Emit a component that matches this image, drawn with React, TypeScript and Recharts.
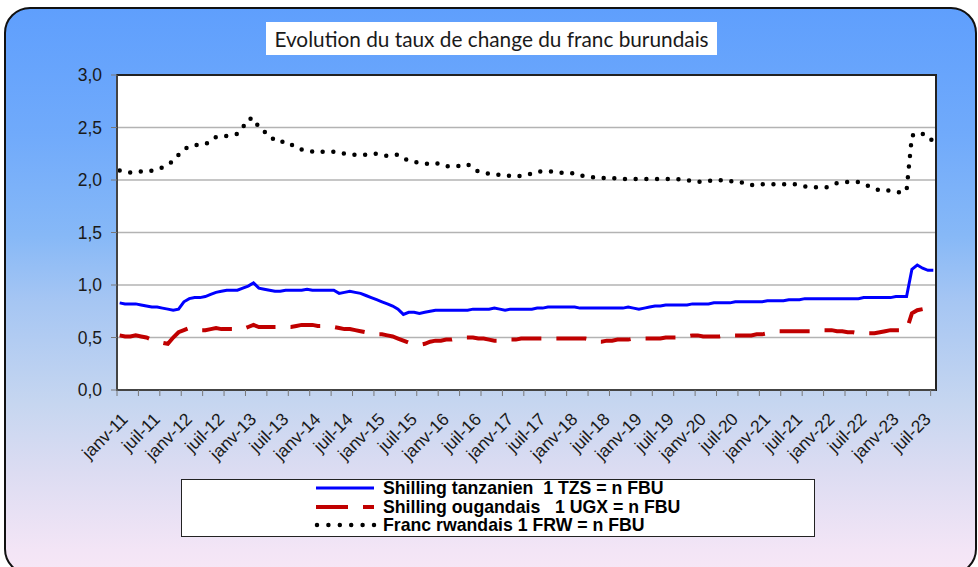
import React from 'react';
import { LineChart, Line, XAxis, YAxis, CartesianGrid, ReferenceArea, Legend } from 'recharts';

// Monthly values, janv-11 .. sept-23 (1 unit of currency = n FBU)
const tzs = [
  0.83, 0.82, 0.82, 0.82, 0.81, 0.80, 0.79, 0.79, 0.78, 0.77, 0.76, 0.77,
  0.84, 0.87, 0.88, 0.88, 0.89, 0.91, 0.93, 0.94, 0.95, 0.95, 0.95, 0.97,
  0.99, 1.02, 0.97, 0.96, 0.95, 0.94, 0.94, 0.95, 0.95, 0.95, 0.95, 0.96,
  0.95, 0.95, 0.95, 0.95, 0.95, 0.92, 0.93, 0.94, 0.93, 0.92, 0.90, 0.88,
  0.86, 0.84, 0.82, 0.80, 0.77, 0.72, 0.74, 0.74, 0.73, 0.74, 0.75, 0.76,
  0.76, 0.76, 0.76, 0.76, 0.76, 0.76, 0.77, 0.77, 0.77, 0.77, 0.78, 0.77,
  0.76, 0.77, 0.77, 0.77, 0.77, 0.77, 0.78, 0.78, 0.79, 0.79, 0.79, 0.79,
  0.79, 0.79, 0.78, 0.78, 0.78, 0.78, 0.78, 0.78, 0.78, 0.78, 0.78, 0.79,
  0.78, 0.77, 0.78, 0.79, 0.80, 0.80, 0.81, 0.81, 0.81, 0.81, 0.81, 0.82,
  0.82, 0.82, 0.82, 0.83, 0.83, 0.83, 0.83, 0.84, 0.84, 0.84, 0.84, 0.84,
  0.84, 0.85, 0.85, 0.85, 0.85, 0.86, 0.86, 0.86, 0.87, 0.87, 0.87, 0.87,
  0.87, 0.87, 0.87, 0.87, 0.87, 0.87, 0.87, 0.88, 0.88, 0.88, 0.88, 0.88,
  0.88, 0.89, 0.89, 0.89, 1.15, 1.19, 1.16, 1.14, 1.14,
];

const ugx: (number | null)[] = [
  0.52, 0.51, 0.51, 0.52, 0.51, 0.50, 0.48, 0.46, 0.45, 0.44, 0.50, 0.55,
  0.57, 0.59, 0.58, 0.57, 0.57, 0.58, 0.59, 0.58, 0.58, 0.58, 0.57, 0.58,
  0.60, 0.62, 0.60, 0.60, 0.60, 0.60, 0.60, 0.60, 0.60, 0.61, 0.62, 0.62,
  0.62, 0.61, 0.61, 0.61, 0.60, 0.59, 0.58, 0.58, 0.57, 0.56, 0.55, 0.54,
  0.53, 0.53, 0.52, 0.51, 0.49, 0.47, 0.45, 0.44, 0.43, 0.44, 0.46, 0.47,
  0.47, 0.48, 0.48, 0.49, 0.50, 0.50, 0.50, 0.49, 0.49, 0.48, 0.47, 0.47,
  0.47, 0.48, 0.48, 0.49, 0.49, 0.49, 0.49, 0.49, 0.49, 0.49, 0.49, 0.49,
  0.49, 0.49, 0.49, 0.49, 0.48, 0.46, 0.46, 0.47, 0.47, 0.48, 0.48, 0.48,
  0.49, 0.49, 0.49, 0.49, 0.49, 0.49, 0.50, 0.50, 0.50, 0.51, 0.51, 0.52,
  0.52, 0.51, 0.51, 0.51, 0.51, 0.52, 0.52, 0.52, 0.52, 0.52, 0.52, 0.53,
  0.53, 0.54, 0.55, 0.56, 0.56, 0.56, 0.56, 0.56, 0.56, 0.56, 0.56, 0.57,
  0.57, 0.57, 0.56, 0.56, 0.55, 0.55, 0.54, 0.54, 0.54, 0.54, 0.55, 0.56,
  0.57, 0.57, 0.57, 0.57, 0.73, 0.76, 0.77, null, null,
];

const frw = [
  2.09, 2.08, 2.07, 2.08, 2.08, 2.08, 2.09, 2.10, 2.12, 2.15, 2.18, 2.24,
  2.29, 2.32, 2.33, 2.34, 2.34, 2.37, 2.41, 2.42, 2.42, 2.43, 2.44, 2.50,
  2.58, 2.59, 2.50, 2.46, 2.43, 2.37, 2.36, 2.37, 2.34, 2.31, 2.29, 2.28,
  2.27, 2.26, 2.27, 2.27, 2.27, 2.26, 2.25, 2.25, 2.24, 2.24, 2.24, 2.25,
  2.25, 2.24, 2.23, 2.24, 2.24, 2.21, 2.18, 2.17, 2.17, 2.16, 2.15, 2.16,
  2.15, 2.13, 2.13, 2.13, 2.14, 2.15, 2.11, 2.08, 2.07, 2.06, 2.05, 2.05,
  2.04, 2.04, 2.03, 2.04, 2.05, 2.06, 2.08, 2.08, 2.08, 2.08, 2.07, 2.07,
  2.07, 2.06, 2.04, 2.04, 2.03, 2.02, 2.02, 2.02, 2.02, 2.01, 2.01, 2.01,
  2.01, 2.01, 2.01, 2.01, 2.01, 2.01, 2.01, 2.01, 2.01, 2.00, 2.00, 1.99,
  1.98, 1.99, 1.99, 2.00, 2.00, 1.99, 1.99, 1.98, 1.98, 1.96, 1.95, 1.96,
  1.96, 1.96, 1.96, 1.96, 1.96, 1.96, 1.96, 1.95, 1.94, 1.93, 1.93, 1.93,
  1.93, 1.95, 1.97, 1.98, 1.98, 1.98, 1.98, 1.96, 1.94, 1.92, 1.90, 1.90,
  1.90, 1.89, 1.88, 1.90, 2.42, 2.45, 2.44, 2.39, 2.38,
];

const tickLabels = [
  'janv-11', 'juil-11', 'janv-12', 'juil-12', 'janv-13', 'juil-13', 'janv-14', 'juil-14',
  'janv-15', 'juil-15', 'janv-16', 'juil-16', 'janv-17', 'juil-17', 'janv-18', 'juil-18',
  'janv-19', 'juil-19', 'janv-20', 'juil-20', 'janv-21', 'juil-21', 'janv-22', 'juil-22',
  'janv-23', 'juil-23',
];

const monthNames = ['janv', 'févr', 'mars', 'avr', 'mai', 'juin', 'juil', 'août', 'sept', 'oct', 'nov', 'déc'];
const months = tzs.map((_, i) => `${monthNames[i % 12]}-${11 + Math.floor(i / 12)}`);

const yTicks = [0, 0.5, 1, 1.5, 2, 2.5, 3];

const seriesNames = [
  'Shilling tanzanien  1 TZS = n FBU',
  'Shilling ougandais   1 UGX = n FBU',
  'Franc rwandais 1 FRW = n FBU',
];

const data = months.map((m, i) => ({ i, month: m, tzs: tzs[i], ugx: ugx[i], frw: frw[i] }));

const N = months.length;
const labelTicks = tickLabels.map((_, k) => k * 6);
const markTicks: number[] = [];
for (let t = -0.5; t < N - 0.5; t += 4) markTicks.push(t);

const AXIS_FONT = '"Liberation Sans", Arial, sans-serif';

const RotTick = (props: any) => {
  const { x, y, payload } = props;
  const idx = Math.round(payload.value / 6);
  const ax = x + 5;
  const ay = y + 25;
  return (
    <text
      x={ax}
      y={ay}
      dy="0.35em"
      transform={`rotate(-45, ${ax}, ${ay})`}
      textAnchor="end"
      fontSize={17.5}
      fontFamily={AXIS_FONT}
      fill="#1a1a1a"
    >
      {tickLabels[idx]}
    </text>
  );
};

const LegendBox = () => {
  const rowStyle = (top: number): React.CSSProperties => ({
    position: 'absolute',
    left: 0,
    top,
    height: 18,
    width: '100%',
  });
  const textStyle: React.CSSProperties = {
    position: 'absolute',
    left: 201,
    top: 0,
    lineHeight: '18px',
    fontFamily: AXIS_FONT,
    fontWeight: 'bold',
    fontSize: 17.7,
    color: '#000',
    whiteSpace: 'pre',
  };
  const svgStyle: React.CSSProperties = { position: 'absolute', left: 132, top: 0 };
  return (
    <div
      style={{
        position: 'relative',
        width: 634,
        height: 58,
        boxSizing: 'border-box',
        border: '1.5px solid #222',
        background: '#fff',
      }}
    >
      <div style={rowStyle(-1)}>
        <svg width={64} height={18} style={svgStyle}>
          <line x1={2} y1={9} x2={60} y2={9} stroke="#0000ff" strokeWidth={3} />
        </svg>
        <span style={textStyle}>{seriesNames[0]}</span>
      </div>
      <div style={rowStyle(17.5)}>
        <svg width={64} height={18} style={svgStyle}>
          <line x1={2} y1={9} x2={60} y2={9} stroke="#c00000" strokeWidth={4} strokeDasharray="32 15" />
        </svg>
        <span style={textStyle}>{seriesNames[1]}</span>
      </div>
      <div style={rowStyle(36)}>
        <svg width={64} height={18} style={svgStyle}>
          <line x1={3} y1={9} x2={60} y2={9} stroke="#000" strokeWidth={4.5} strokeDasharray="0 11.4" strokeLinecap="round" />
        </svg>
        <span style={textStyle}>{seriesNames[2]}</span>
      </div>
    </div>
  );
};

export default function App() {
  return (
    <div style={{ position: 'absolute', left: 0, top: 0, width: 978, height: 567, overflow: 'hidden', background: '#fff' }}>
      <div
        style={{
          position: 'absolute',
          left: 4,
          top: 7,
          width: 973,
          height: 568,
          boxSizing: 'border-box',
          border: '2px solid #111',
          borderRadius: 26,
          background:
            'linear-gradient(to bottom, #5f9ffd 0%, #70aafb 22%, #86b8f7 40%, #a6c6f3 52%, #c6d6f0 70%, #dcdcf2 82%, #f3e5f6 96%, #f7e7f6 100%)',
        }}
      />
      <div
        style={{
          position: 'absolute',
          left: 266,
          top: 22,
          width: 451,
          height: 33,
          background: '#fff',
          fontFamily: 'Lato, "Open Sans", sans-serif',
          fontSize: 20.8,
          lineHeight: '33px',
          textAlign: 'center',
          color: '#1a1a1a',
          whiteSpace: 'nowrap',
        }}
      >
        Evolution du taux de change du franc burundais
      </div>
      <div style={{ position: 'absolute', left: 0, top: 0 }}>
        <LineChart width={978} height={567} data={data} margin={{ top: 75, right: 42, bottom: 0, left: 0 }}>
          <CartesianGrid xAxisId="a" vertical={false} stroke="#b3b3b3" strokeWidth={1.5} fill="#fff" />
          <XAxis
            xAxisId="a"
            type="number"
            dataKey="i"
            domain={[-0.5, N - 0.5]}
            ticks={markTicks}
            interval={0}
            height={1}
            tickSize={6}
            tickFormatter={() => ''}
            axisLine={{ stroke: '#444', strokeWidth: 2 }}
            tickLine={{ stroke: '#777', strokeWidth: 1 }}
            allowDataOverflow
          />
          <XAxis
            xAxisId="b"
            type="number"
            dataKey="i"
            domain={[-0.5, N - 0.5]}
            ticks={labelTicks}
            interval={0}
            height={176}
            tickSize={0}
            tickMargin={0}
            axisLine={false}
            tickLine={false}
            tick={<RotTick />}
            allowDataOverflow
          />
          <YAxis
            type="number"
            domain={[0, 3]}
            ticks={yTicks}
            interval={0}
            width={117}
            tickSize={6}
            tickMargin={9}
            tickFormatter={(v: number) => v.toFixed(1).replace('.', ',')}
            axisLine={{ stroke: '#444', strokeWidth: 2 }}
            tickLine={{ stroke: '#777', strokeWidth: 1 }}
            tick={{ fontSize: 17.5, fontFamily: AXIS_FONT, fill: '#1a1a1a' }}
            allowDataOverflow
          />
          <ReferenceArea
            xAxisId="a"
            x1={-0.5}
            x2={N - 0.5}
            y1={0}
            y2={3}
            fill="none"
            fillOpacity={0}
            stroke="#222"
            strokeWidth={2}
            ifOverflow="visible"
          />
          <Line
            xAxisId="a"
            dataKey="tzs"
            name={seriesNames[0]}
            type="linear"
            stroke="#0000ff"
            strokeWidth={3}
            dot={false}
            activeDot={false}
            isAnimationActive={false}
          />
          <Line
            xAxisId="a"
            dataKey="ugx"
            name={seriesNames[1]}
            type="linear"
            stroke="#c00000"
            strokeWidth={4}
            strokeDasharray="30 15"
            dot={false}
            activeDot={false}
            connectNulls={false}
            isAnimationActive={false}
          />
          <Line
            xAxisId="a"
            dataKey="frw"
            name={seriesNames[2]}
            type="linear"
            stroke="#000"
            strokeWidth={4.5}
            strokeDasharray="0 10.7"
            strokeLinecap="round"
            dot={false}
            activeDot={false}
            isAnimationActive={false}
          />
          <Legend
            layout="horizontal"
            verticalAlign="middle"
            align="center"
            content={() => <LegendBox />}
            wrapperStyle={{ left: 181, top: 479, width: 634, height: 58 }}
          />
        </LineChart>
      </div>
    </div>
  );
}
